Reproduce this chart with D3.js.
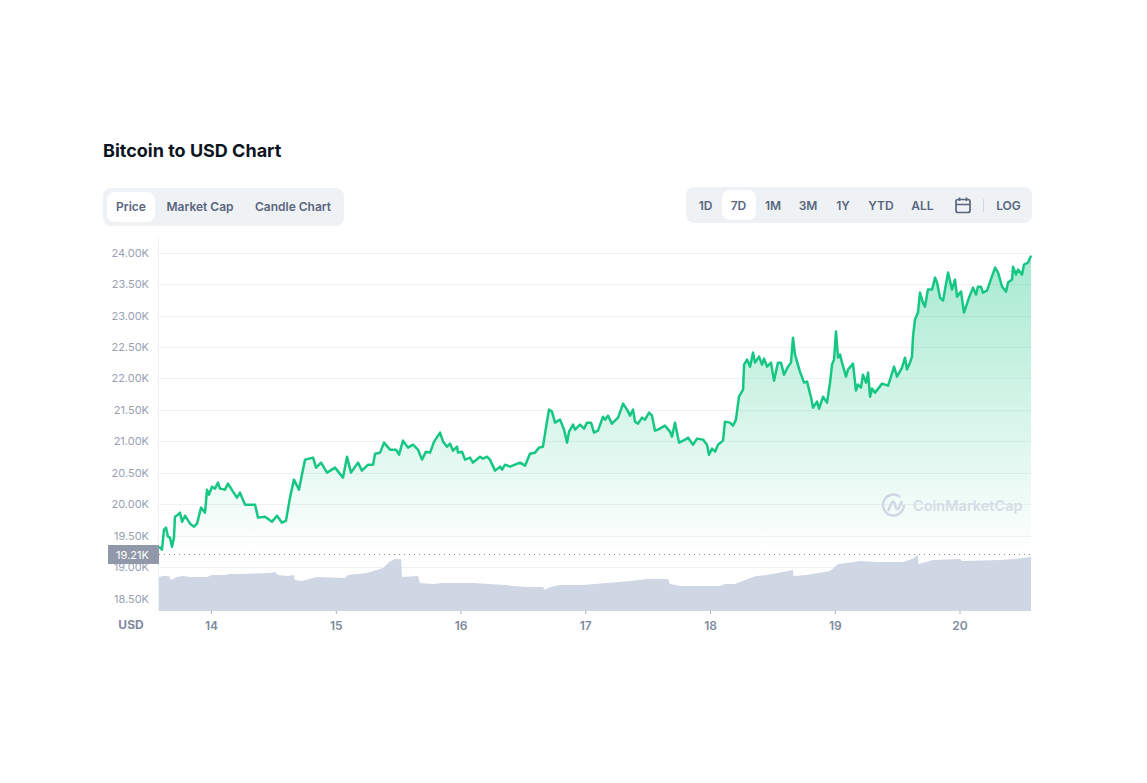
<!DOCTYPE html>
<html><head><meta charset="utf-8">
<script src="https://cdn.jsdelivr.net/npm/d3@7"></script>
<style>
html,body{margin:0;padding:0;background:#fff;overflow:hidden}
svg{display:block;font-family:Inter,"Noto Sans",sans-serif}
</style></head><body><div id="chart"></div>
<script>
const titleText = "Bitcoin to USD Chart";
const chartTabs = ["Price","Market Cap","Candle Chart"];
const rangeTabs = ["1D","7D","1M","3M","1Y","YTD","ALL"];
const priceTicks = [18500,19000,19500,20000,20500,21000,21500,22000,22500,23000,23500,24000];
const dayTicks = [14,15,16,17,18,19,20];
const basePrice = 19210;
const priceDays = [13.583,13.607,13.623,13.639,13.655,13.671,13.687,13.703,13.711,13.735,13.751,13.768,13.792,13.832,13.864,13.888,13.920,13.952,13.968,13.984,14.008,14.032,14.056,14.072,14.112,14.136,14.176,14.208,14.232,14.273,14.313,14.353,14.377,14.433,14.489,14.529,14.569,14.601,14.633,14.665,14.705,14.737,14.754,14.818,14.842,14.882,14.930,14.994,15.058,15.090,15.122,15.178,15.210,15.259,15.299,15.315,15.355,15.387,15.435,15.483,15.507,15.539,15.579,15.619,15.659,15.691,15.723,15.756,15.788,15.836,15.860,15.892,15.916,15.940,15.972,15.980,16.012,16.036,16.076,16.100,16.156,16.180,16.212,16.236,16.277,16.317,16.333,16.357,16.397,16.477,16.517,16.557,16.597,16.629,16.661,16.685,16.709,16.733,16.758,16.798,16.830,16.854,16.870,16.902,16.918,16.958,16.990,17.014,17.046,17.070,17.102,17.142,17.158,17.182,17.214,17.263,17.303,17.335,17.359,17.383,17.399,17.423,17.455,17.479,17.511,17.535,17.559,17.583,17.639,17.679,17.695,17.719,17.752,17.800,17.824,17.864,17.896,17.944,17.976,17.992,18.016,18.040,18.064,18.104,18.120,18.160,18.184,18.208,18.232,18.265,18.273,18.297,18.321,18.345,18.361,18.393,18.417,18.433,18.457,18.489,18.513,18.545,18.569,18.593,18.625,18.649,18.665,18.681,18.721,18.754,18.778,18.810,18.826,18.858,18.874,18.906,18.938,18.962,18.978,18.994,19.010,19.026,19.042,19.058,19.090,19.106,19.146,19.170,19.186,19.210,19.226,19.251,19.267,19.283,19.299,19.323,19.379,19.427,19.451,19.475,19.499,19.539,19.563,19.579,19.603,19.619,19.627,19.643,19.667,19.683,19.707,19.723,19.747,19.780,19.804,19.820,19.844,19.868,19.908,19.940,19.964,19.980,20.012,20.036,20.076,20.108,20.132,20.148,20.172,20.188,20.220,20.285,20.309,20.341,20.373,20.389,20.421,20.429,20.453,20.469,20.501,20.517,20.549,20.573];
const priceValues = [19325,19278,19596,19628,19484,19469,19325,19469,19802,19834,19866,19723,19818,19691,19643,19691,19946,19866,20232,20152,20279,20248,20343,20248,20232,20327,20200,20105,20184,19993,19993,19993,19787,19802,19723,19818,19707,19739,20105,20391,20232,20550,20709,20741,20582,20661,20502,20582,20423,20756,20502,20661,20534,20629,20629,20804,20820,20979,20868,20868,20788,21011,20900,20947,20868,20709,20836,20820,20995,21138,20995,20915,20963,20852,20915,20820,20836,20709,20741,20661,20756,20725,20756,20709,20534,20597,20550,20629,20597,20661,20613,20804,20820,20900,20915,21217,21504,21472,21297,21345,21186,20979,21154,21265,21186,21265,21202,21297,21297,21138,21170,21392,21345,21408,21281,21376,21599,21504,21408,21504,21313,21281,21376,21345,21456,21408,21170,21186,21249,21154,21074,21297,20979,21027,21058,20947,21043,21027,20947,20788,20884,20836,20947,21011,21313,21297,21249,21345,21710,21822,22219,22299,22187,22410,22251,22346,22219,22315,22187,22251,21965,22251,22251,22060,22187,22251,22648,22378,22108,21933,21949,21694,21535,21631,21520,21710,21615,21933,22219,22299,22744,22330,22378,22251,22028,22140,22235,21806,21901,21853,22060,21933,22092,21710,21838,21774,21917,21885,22028,22187,22028,22171,22330,22140,22251,22346,22664,22935,23046,23364,23205,23141,23412,23412,23602,23523,23284,23237,23682,23412,23571,23300,23380,23046,23284,23443,23332,23459,23459,23364,23396,23761,23682,23459,23380,23523,23571,23777,23650,23730,23650,23809,23841,23952];
const volumeDays = [13.583,13.615,13.663,13.679,13.727,13.776,13.832,13.968,14.008,14.128,14.136,14.232,14.473,14.513,14.537,14.609,14.665,14.673,14.729,14.850,15.074,15.098,15.251,15.379,15.427,15.475,15.523,15.531,15.659,15.675,15.780,15.860,16.100,16.357,16.421,16.533,16.661,16.677,16.717,16.798,16.982,17.174,17.359,17.495,17.663,17.679,17.760,18.080,18.120,18.200,18.321,18.377,18.457,18.665,18.669,18.778,18.962,19.026,19.098,19.202,19.339,19.547,19.619,19.667,19.671,19.788,20.004,20.020,20.325,20.429,20.573];
const volumeValues = [34,35,35,31,34,35,34,34,36,36,37,37,38,39,36,35,36,31,30,34,33,36,38,43,49,52,52,34,35,28,27,28,28,26,25,24,24,21,24,26,26,28,30,32,32,27,25,25,27,27,33,35,36,41,35,36,40,47,48,50,49,49,52,56,47,51,52,50,51,52,54];

const W=1147,H=783;
const svg=d3.select("#chart").append("svg").attr("width",W).attr("height",H);
const x=d3.scaleLinear().domain([13.583,20.573]).range([159,1031]);
const y=d3.scaleLinear().domain([18500,24000]).range([598.6,252.6]);
const yVol=d3.scaleLinear().domain([0,100]).range([611,511]);
const defs=svg.append("defs");
const grad=defs.append("linearGradient").attr("id","priceFill").attr("gradientUnits","userSpaceOnUse")
  .attr("x1",0).attr("x2",0).attr("y1",y(24000)).attr("y2",y(basePrice));
grad.append("stop").attr("offset",0).attr("stop-color","#16c784").attr("stop-opacity",.38);
grad.append("stop").attr("offset",1).attr("stop-color","#16c784").attr("stop-opacity",0);

// title
svg.append("text").attr("x",103).attr("y",157).attr("font-size",18).attr("font-weight",700).attr("fill","#0d1421").text(titleText);

// tab groups
const tabColor="#58667e";
svg.append("rect").attr("x",103).attr("y",188).attr("width",241).attr("height",38).attr("rx",8).attr("fill","#eff2f5");
svg.append("rect").attr("x",107).attr("y",192).attr("width",48).attr("height",30).attr("rx",8).attr("fill","#fff");
const tabX=[131,200,293];
chartTabs.forEach((t,i)=>svg.append("text").attr("x",tabX[i]).attr("y",211).attr("text-anchor","middle")
  .attr("font-size",12).attr("font-weight",600).attr("fill",tabColor).text(t));
svg.append("rect").attr("x",686).attr("y",187).attr("width",346).attr("height",36).attr("rx",8).attr("fill","#eff2f5");
svg.append("rect").attr("x",722).attr("y",190).attr("width",34).attr("height",30).attr("rx",8).attr("fill","#fff");
const rangeX=[705.5,738.5,773,808,843,881,922.5];
rangeTabs.forEach((t,i)=>svg.append("text").attr("x",rangeX[i]).attr("y",210).attr("text-anchor","middle")
  .attr("font-size",12).attr("font-weight",600).attr("fill",tabColor).text(t));
svg.append("text").attr("x",1008.5).attr("y",210).attr("text-anchor","middle").attr("font-size",12).attr("font-weight",600).attr("fill",tabColor).text("LOG");
svg.append("line").attr("x1",983.5).attr("x2",983.5).attr("y1",199).attr("y2",212).attr("stroke","#cfd6e4");
const cal=svg.append("g").attr("fill","none").attr("stroke",tabColor).attr("stroke-width",1.7);
cal.append("rect").attr("x",956).attr("y",199.5).attr("width",14).attr("height",13).attr("rx",2);
cal.append("path").attr("d","M956 204.5H970M959.5 197.5V201M966.5 197.5V201");

// grid
svg.append("g").selectAll("line").data(priceTicks).join("line")
  .attr("x1",x.range()[0]).attr("x2",x.range()[1]).attr("y1",d=>Math.round(y(d))+.5).attr("y2",d=>Math.round(y(d))+.5)
  .attr("stroke","#eff2f5");
svg.append("line").attr("x1",158.5).attr("x2",158.5).attr("y1",238).attr("y2",611).attr("stroke","#eff2f5");

// y axis
const yAxis=svg.append("g").attr("transform","translate(149,0)")
  .call(d3.axisLeft(y).tickValues(priceTicks).tickSize(0).tickPadding(0).tickFormat(d=>(d/1000).toFixed(2)+"K"));
yAxis.select(".domain").remove();
yAxis.selectAll("text").attr("font-family","Inter").attr("font-size",11).attr("font-weight",400).attr("fill","#98a0b2");

// price area & line
svg.append("path").datum(priceDays.map((d,i)=>[d,priceValues[i]]))
  .attr("fill","url(#priceFill)")
  .attr("d",d3.area().x(d=>x(d[0])).y0(y(basePrice)).y1(d=>y(d[1])));
svg.append("path").datum(priceDays.map((d,i)=>[d,priceValues[i]]))
  .attr("fill","none").attr("stroke","#16c784").attr("stroke-width",2.5).attr("stroke-linejoin","round")
  .attr("d",d3.line().x(d=>x(d[0])).y(d=>y(d[1])));

// base line
svg.append("line").attr("x1",159).attr("x2",1031).attr("y1",Math.round(y(basePrice))+.5).attr("y2",Math.round(y(basePrice))+.5)
  .attr("stroke","#858ca2").attr("stroke-dasharray","1 4");

// volume
svg.append("path").datum(volumeDays.map((d,i)=>[d,volumeValues[i]]))
  .attr("fill","#cfd6e4")
  .attr("d",d3.area().x(d=>x(d[0])).y0(yVol(0)).y1(d=>yVol(d[1])));

// current price label
svg.append("rect").attr("x",108).attr("y",545).attr("width",51).attr("height",19).attr("fill","#9198a9");
svg.append("text").attr("x",132.5).attr("y",558.5).attr("text-anchor","middle").attr("font-size",11).attr("fill","#fff").text(d3.format(".2f")(basePrice/1000)+"K");

// x axis
const xAxis=svg.append("g").attr("transform","translate(0,611)")
  .call(d3.axisBottom(x).tickValues(dayTicks).tickSize(3).tickPadding(7).tickFormat(d3.format("d")));
xAxis.select(".domain").remove();
xAxis.selectAll("line").attr("stroke","#a6b0c3");
xAxis.selectAll("text").attr("font-family","Inter").attr("font-size",12).attr("font-weight",600).attr("fill","#808a9d");
svg.append("text").attr("x",131).attr("y",629).attr("text-anchor","middle").attr("font-size",12).attr("font-weight",700).attr("fill","#808a9d").text("USD");

// watermark
const wm=svg.append("g").attr("fill","none").attr("stroke","#cfd6e4").attr("stroke-width",2.4).attr("opacity",.95);
wm.append("path").attr("d","M904 505a10.5 10.5 0 1 1-3.7-8");
wm.append("path").attr("d","M888 511l3.5-8c1-2 2.5-1.5 3 0l1.5 5c.5 1.5 2 1.5 3 0l3-7");
svg.append("text").attr("x",913).attr("y",511).attr("font-size",14.5).attr("font-weight",600).attr("fill","#d5dbe6").text("CoinMarketCap");
</script></body></html>
